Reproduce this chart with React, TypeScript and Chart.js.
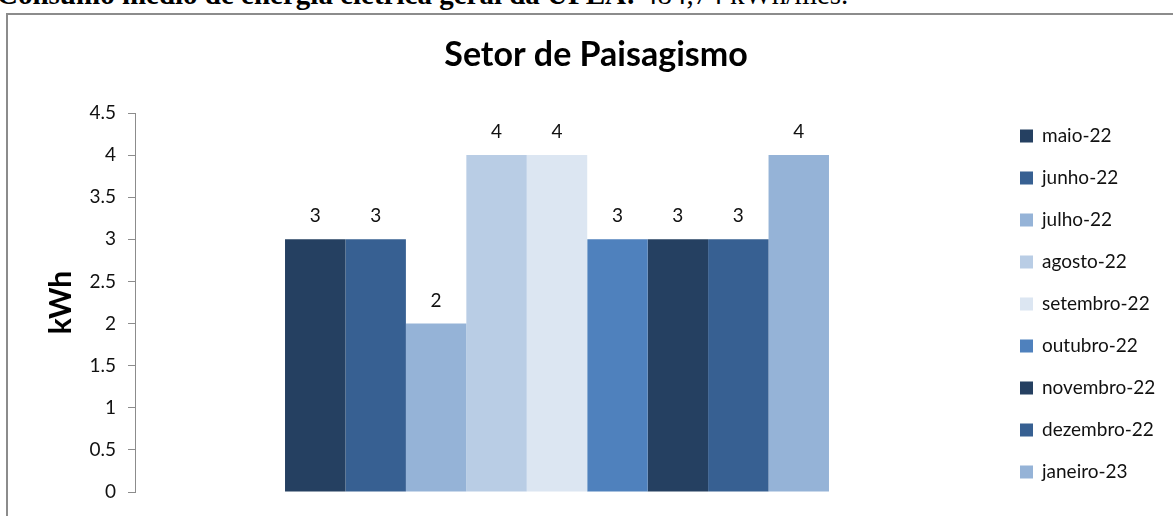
import React, { useEffect, useRef } from "react";
import { Chart, registerables } from "chart.js";

Chart.register(...registerables);

const months = [
  "maio-22",
  "junho-22",
  "julho-22",
  "agosto-22",
  "setembro-22",
  "outubro-22",
  "novembro-22",
  "dezembro-22",
  "janeiro-23",
];
const values = [3, 3, 2, 4, 4, 3, 3, 3, 4];
const colors = [
  "#254061",
  "#376092",
  "#95B3D7",
  "#B9CDE5",
  "#DCE6F2",
  "#4F81BD",
  "#254061",
  "#376092",
  "#95B3D7",
];
const yMax = 4.5;
const yStep = 0.5;
const chartTitle = "Setor de Paisagismo";
const yTitle = "kWh";
const headerBold = "Consumo médio de energia elétrica geral da UFLA:";
const headerNormal = " 484,74 kWh/mês.";

const W = 1173;
const H = 516;
const TEXT = "#111111";

const overlay = {
  id: "overlay",
  afterDatasetsDraw(chart: any) {
    const ctx = chart.ctx;
    ctx.save();
    // data labels
    ctx.fillStyle = TEXT;
    ctx.font = "19px Lato";
    ctx.textAlign = "center";
    ctx.textBaseline = "middle";
    chart.data.datasets.forEach((ds: any, i: number) => {
      const meta = chart.getDatasetMeta(i);
      const bar = meta.data[0];
      if (!bar) return;
      ctx.fillText(String(ds.data[0]), bar.x, bar.y - 23);
    });
    // title
    ctx.font = "bold 34px Lato";
    ctx.textBaseline = "alphabetic";
    ctx.fillStyle = "#000";
    ctx.fillText(chartTitle, 596, 66);
    // legend
    ctx.font = "19px Lato";
    ctx.textAlign = "left";
    ctx.textBaseline = "middle";
    chart.data.datasets.forEach((ds: any, i: number) => {
      const cy = 136 + 42 * i;
      ctx.fillStyle = ds.backgroundColor;
      ctx.fillRect(1020, cy - 6.5, 13, 13);
      ctx.fillStyle = TEXT;
      ctx.fillText(ds.label, 1042, cy);
    });
    ctx.restore();
  },
};

export default function App() {
  const ref = useRef<HTMLCanvasElement | null>(null);

  useEffect(() => {
    if (!ref.current) return;
    const chart = new Chart(ref.current, {
      type: "bar",
      data: {
        labels: [""],
        datasets: months.map((m, i) => ({
          label: m,
          data: [values[i]],
          backgroundColor: colors[i],
          borderWidth: 0,
          categoryPercentage: 0.6445,
          barPercentage: 1,
        })),
      },
      options: {
        responsive: false,
        animation: false,
        maintainAspectRatio: false,
        layout: { padding: { left: 0, right: 194, top: 113, bottom: 24 } },
        plugins: {
          legend: { display: false },
          title: { display: false },
          tooltip: { enabled: false },
        },
        scales: {
          x: { display: false },
          y: {
            min: 0,
            max: yMax,
            ticks: {
              stepSize: yStep,
              color: TEXT,
              font: { family: "Lato", size: 19 },
              padding: 12,
              callback: (v: any) => String(Number(v)),
            },
            grid: {
              display: true,
              drawOnChartArea: false,
              drawTicks: true,
              tickLength: 7,
              color: "#8c8c8c",
            },
            border: { display: true, color: "#8c8c8c", width: 1 },
            title: {
              display: true,
              text: yTitle,
              color: "#000",
              font: { family: "Lato", size: 30, weight: "bold" },
              padding: { top: 43, bottom: 0 },
            },
            afterFit(scale: any) {
              scale.width = 135;
            },
          },
        },
      },
      plugins: [overlay],
    } as any);
    return () => chart.destroy();
  }, []);

  return (
    <div
      style={{
        position: "fixed",
        left: 0,
        top: 0,
        width: W,
        height: H,
        overflow: "hidden",
        background: "#fff",
      }}
    >
      <div
        style={{
          position: "absolute",
          left: 6,
          top: 13,
          width: 1300,
          height: 700,
          border: "2px solid #8c8c8c",
          boxSizing: "border-box",
        }}
      />
      <div
        style={{
          position: "absolute",
          left: -3,
          top: -20,
          whiteSpace: "nowrap",
          fontFamily: "'Liberation Serif', 'Times New Roman', serif",
          fontSize: 29,
          lineHeight: "29px",
          color: "#000",
        }}
      >
        <b>{headerBold}</b>
        <span>{headerNormal}</span>
      </div>
      <canvas
        ref={ref}
        width={W}
        height={H}
        style={{ position: "absolute", left: 0, top: 0, width: W, height: H, display: "block" }}
      />
    </div>
  );
}
